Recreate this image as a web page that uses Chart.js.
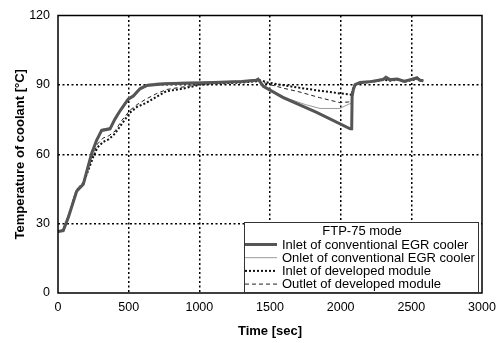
<!DOCTYPE html>
<html>
<head>
<meta charset="utf-8">
<script src="https://cdn.jsdelivr.net/npm/chart.js@4"></script>
<style>
  html, body { margin: 0; padding: 0; background: #fff; }
  #wrap { width: 503px; height: 343px; }
</style>
</head>
<body>
<div id="wrap"><canvas id="coolantChart" width="503" height="343"></canvas></div>
<script>
// values (time in sec, temperature in degC)
const xTicks = [0, 500, 1000, 1500, 2000, 2500, 3000];
const yTicks = [0, 30, 60, 90, 120];
const legendTitle = 'FTP-75 mode';
const seriesNames = [
    'Inlet of conventional EGR cooler',
    'Onlet of conventional EGR cooler',
    'Inlet of developed module',
    'Outlet of developed module'
];

const convInTime = [0, 37, 73, 132, 179, 214, 238, 273, 309, 368, 403, 439, 497, 533, 580, 627, 700, 769, 900, 1000, 1100, 1200, 1300, 1400, 1416, 1453, 1594, 1830, 2067, 2078, 2081, 2090, 2102, 2137, 2200, 2250, 2300, 2320, 2350, 2400, 2450, 2500, 2540, 2560, 2585];
const convInTemp = [26.6, 27, 32.7, 44, 47, 55, 60.3, 66, 70.3, 71, 75.2, 78.8, 83.8, 85.2, 88.3, 89.7, 90.2, 90.5, 90.7, 90.8, 91, 91.2, 91.5, 92, 92.5, 89.4, 84.5, 78.1, 71, 71, 85, 88, 90.1, 91, 91.3, 91.8, 92.3, 93.2, 92.2, 92.5, 91.5, 92.4, 93, 92, 91.8];

const convOutTime = [0, 37, 73, 132, 179, 214, 238, 273, 309, 368, 403, 439, 497, 533, 580, 627, 700, 769, 900, 1000, 1100, 1200, 1300, 1400, 1416, 1500, 1641, 1750, 1854, 1995, 2054, 2075, 2081, 2090, 2102, 2137, 2200, 2250, 2300, 2320, 2350, 2400, 2450, 2500, 2540, 2560, 2585];
const convOutTemp = [26.6, 27.3, 33, 44.5, 47.5, 55.5, 60.8, 66.5, 70.8, 71.5, 75.5, 79.3, 84.3, 85.8, 88.8, 90.2, 90.8, 91, 91.2, 91.3, 91.4, 91.5, 91.7, 92.2, 92.3, 87.3, 83.8, 81.5, 79.8, 79.8, 81.6, 82, 86, 89, 90.5, 91.2, 91.5, 92, 92.8, 94, 92.8, 92.8, 92, 92.6, 93.6, 92.4, 92];

const devInTime = [0, 37, 73, 132, 179, 214, 250, 280, 319, 360, 403, 450, 509, 560, 627, 700, 769, 850, 910, 1003, 1100, 1200, 1300, 1400, 1440, 1476, 1600, 1712, 1850, 1995, 2066, 2078, 2085, 2102, 2137, 2200, 2250, 2300, 2350, 2400, 2450, 2500, 2550, 2585];
const devInTemp = [26.6, 27.2, 33, 44.5, 47.5, 53, 59, 63, 65.3, 66.5, 68.9, 73, 78, 80.5, 82.3, 85, 87.3, 88, 88.7, 90.1, 90.5, 90.8, 91, 91.5, 92, 91.1, 89.8, 88.7, 87.5, 86.3, 85.9, 85.5, 88, 90, 90.8, 91.2, 91.6, 92.2, 91.8, 92.3, 91.4, 92, 92.6, 91.6];

const devOutTime = [0, 37, 73, 132, 179, 214, 250, 280, 319, 360, 403, 450, 509, 560, 627, 700, 769, 850, 910, 1003, 1100, 1200, 1300, 1416, 1500, 1600, 1712, 1850, 1995, 2054, 2075, 2082, 2102, 2137, 2200, 2250, 2300, 2350, 2400, 2450, 2500, 2550, 2585];
const devOutTemp = [26.6, 27.2, 33.2, 44.8, 48, 54, 60, 64.5, 67, 68, 70, 74.5, 79, 81.5, 84, 86.3, 88, 88.8, 89.3, 90.2, 90.6, 90.9, 91.2, 91.8, 90.1, 88.5, 86.9, 84.5, 82.3, 82.6, 83, 87, 90, 90.9, 91.3, 91.7, 92.4, 92, 92.6, 91.6, 92.2, 92.8, 91.8];

const toPoints = (xs, ys) => xs.map((x, i) => ({ x, y: ys[i] }));

const lineStyles = [
    { color: '#555555', width: 3, dash: [] },
    { color: '#9a9a9a', width: 1, dash: [] },
    { color: '#111111', width: 2, dash: [2, 2] },
    { color: '#222222', width: 1, dash: [4, 3] }
];

const dataSets = [
    toPoints(convInTime, convInTemp),
    toPoints(convOutTime, convOutTemp),
    toPoints(devInTime, devInTemp),
    toPoints(devOutTime, devOutTemp)
];

// frame round the plot area plus the boxed legend sitting inside it
const frameAndLegend = {
    id: 'frameAndLegend',
    afterDatasetsDraw(chart) {
        const { ctx, chartArea: a } = chart;
        ctx.save();
        ctx.setLineDash([]);
        ctx.strokeStyle = '#000';
        ctx.lineWidth = 1.5;
        ctx.strokeRect(a.left, a.top, a.right - a.left, a.bottom - a.top);

        const left = a.left + 186, right = a.right - 3;
        const top = a.top + 206.5, bottom = a.bottom;
        ctx.fillStyle = '#fff';
        ctx.fillRect(left, top, right - left, bottom - top);
        ctx.strokeStyle = '#333';
        ctx.lineWidth = 1;
        ctx.strokeRect(left + 0.5, top + 0.5, right - left - 1, bottom - top - 1);

        ctx.fillStyle = '#000';
        ctx.font = '13px "Liberation Sans", Arial, sans-serif';
        ctx.textBaseline = 'middle';
        ctx.textAlign = 'center';
        ctx.fillText(legendTitle, left + 118, top + 9);
        ctx.textAlign = 'left';
        chart.data.datasets.forEach((ds, i) => {
            const y = top + 22.5 + i * 13.2;
            ctx.beginPath();
            ctx.strokeStyle = ds.borderColor;
            ctx.lineWidth = ds.borderWidth;
            ctx.setLineDash(ds.borderDash);
            ctx.moveTo(left + 1, y);
            ctx.lineTo(left + 33, y);
            ctx.stroke();
            ctx.setLineDash([]);
            ctx.fillText(ds.label, left + 38, y + 0.5);
        });
        ctx.restore();
    }
};

const gridColor = ctx => (ctx.index === 0 || ctx.tick.value === ctx.scale.max) ? 'rgba(0,0,0,0)' : '#000';
const plainNumber = v => String(v);

new Chart(document.getElementById('coolantChart'), {
    type: 'line',
    data: {
        datasets: dataSets.map((pts, i) => ({
            label: seriesNames[i],
            data: pts,
            borderColor: lineStyles[i].color,
            borderWidth: lineStyles[i].width,
            borderDash: lineStyles[i].dash,
            pointRadius: 0,
            tension: 0,
            fill: false
        }))
    },
    options: {
        responsive: false,
        animation: false,
        layout: { padding: { left: 0, right: 21, top: 11, bottom: 0 } },
        plugins: { legend: { display: false }, tooltip: { enabled: false } },
        scales: {
            x: {
                type: 'linear',
                min: xTicks[0],
                max: xTicks[xTicks.length - 1],
                afterBuildTicks: s => { s.ticks = xTicks.map(v => ({ value: v })); },
                afterFit: s => { s.height = 50; },
                grid: { color: gridColor, lineWidth: 1.5, drawTicks: false },
                border: { display: false, dash: [2, 2.5] },
                ticks: { color: '#000', padding: 7, callback: plainNumber, font: { family: '"Liberation Sans", Arial', size: 12.5 } },
                title: {
                    display: true,
                    text: 'Time [sec]',
                    color: '#000',
                    padding: { top: 0, bottom: 4 },
                    font: { family: '"Liberation Sans", Arial', size: 13, weight: 'bold' }
                }
            },
            y: {
                min: yTicks[0],
                max: yTicks[yTicks.length - 1],
                afterBuildTicks: s => { s.ticks = yTicks.map(v => ({ value: v })); },
                afterFit: s => { s.width = 58; },
                grid: { color: gridColor, lineWidth: 1.5, drawTicks: false },
                border: { display: false, dash: [2, 2.5] },
                ticks: { color: '#000', padding: 8, callback: plainNumber, font: { family: '"Liberation Sans", Arial', size: 12.5 } },
                title: {
                    display: true,
                    text: 'Temperature of coolant [°C]',
                    color: '#000',
                    padding: { top: 13, bottom: 0 },
                    font: { family: '"Liberation Sans", Arial', size: 13, weight: 'bold' }
                }
            }
        }
    },
    plugins: [frameAndLegend]
});
</script>
</body>
</html>
